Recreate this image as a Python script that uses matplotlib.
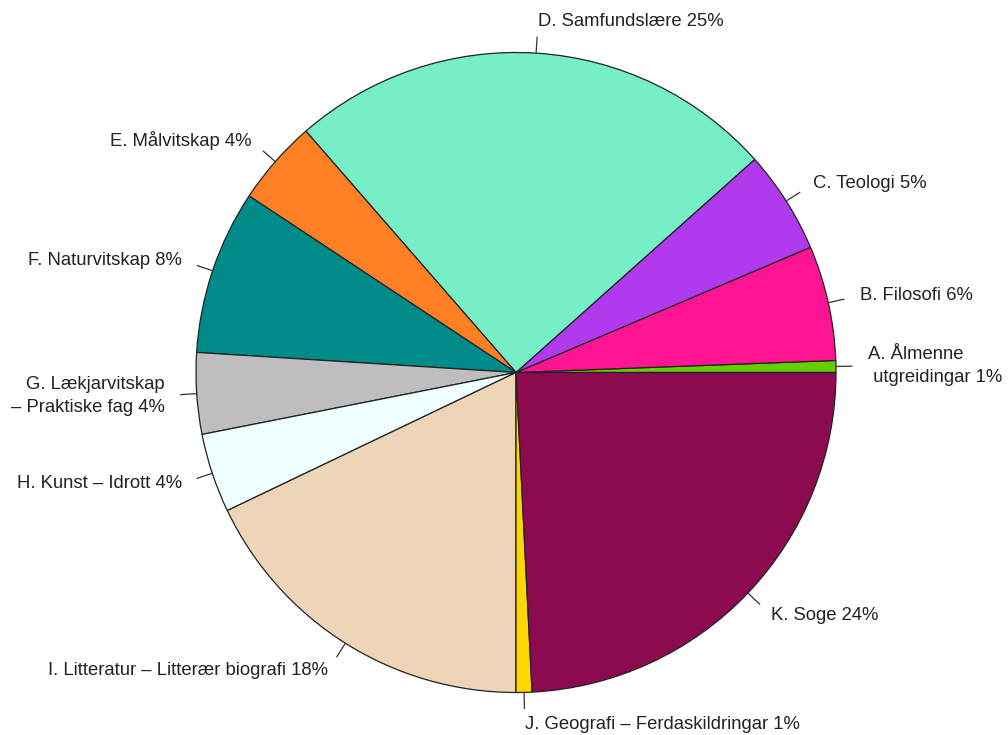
import matplotlib.pyplot as plt
import numpy as np

plt.rcParams["font.family"] = ["Liberation Sans", "DejaVu Sans"]

labels = [
    "A. Ålmenne\n utgreidingar 1%",
    "B. Filosofi 6%",
    "C. Teologi 5%",
    "D. Samfundslære 25%",
    "E. Målvitskap 4%",
    "F. Naturvitskap 8%",
    "G. Lækjarvitskap\n– Praktiske fag 4%",
    "H. Kunst – Idrott 4%",
    "I. Litteratur – Litterær biografi 18%",
    "J. Geografi – Ferdaskildringar 1%",
    "K. Soge 24%",
]
shares = [0.6, 5.8, 5.2, 24.8, 4.3, 8.3, 4.1, 4.0, 17.9, 0.8, 24.2]
colors = ["#66CD00", "#FF1493", "#B23AEE", "#76EEC6", "#FF7F24", "#008B8B",
          "#BEBEBE", "#F0FFFF", "#EED5B7", "#FFD700", "#8B0A50"]

fig = plt.figure(figsize=(10.08, 7.35), dpi=100)
ax = fig.add_axes([0, 0, 1, 1])

wedges, _ = ax.pie(shares, colors=colors, startangle=0, counterclock=True,
                   radius=1.0, center=(0, 0), frame=True,
                   wedgeprops=dict(edgecolor="#222222", linewidth=0.9))

# pie of radius 1 at origin; limits chosen so 1 unit = 320 px
scale = 320.0
cx, cy = 516.0, 372.5
ax.set_xlim(-cx / scale, (1008 - cx) / scale)
ax.set_ylim(-(735 - cy) / scale, cy / scale)
ax.axis("off")

# R-style labels: tick from r=1 to 1.05, text at 1.1
for w, lab in zip(wedges, labels):
    mid = np.deg2rad((w.theta1 + w.theta2) / 2)
    c, s = np.cos(mid), np.sin(mid)
    ax.plot([c, 1.05 * c], [s, 1.05 * s], color="#333333", lw=0.9)
    ax.text(1.1 * c, 1.1 * s, lab, ha="left" if c >= 0 else "right",
            va="center", fontsize=13.3, color="#222222", linespacing=1.45)

fig.savefig("out.png", dpi=100)
